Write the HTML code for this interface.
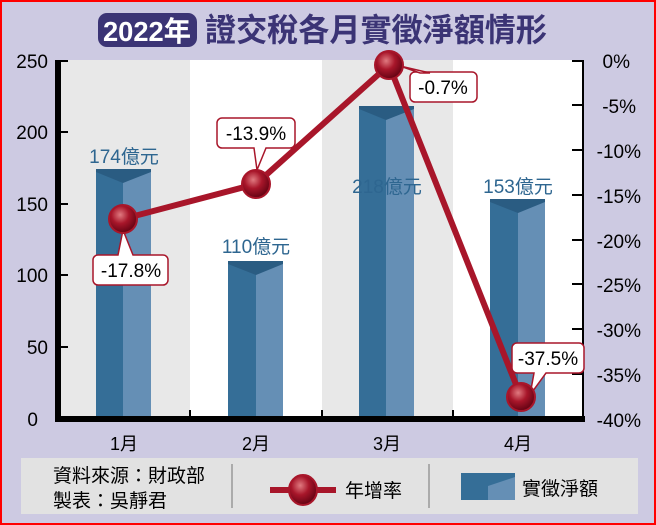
<!DOCTYPE html>
<html><head><meta charset="utf-8"><style>
body{margin:0;padding:0;}
svg{display:block;}
text{font-family:"Liberation Sans","Noto Sans CJK TC",sans-serif;}
</style></head><body>
<svg width="656" height="525" viewBox="0 0 656 525" xmlns="http://www.w3.org/2000/svg">
<defs>
<radialGradient id="mk" cx="0.4" cy="0.35" r="0.7">
<stop offset="0" stop-color="#e07a80"/><stop offset="0.45" stop-color="#a8162a"/><stop offset="1" stop-color="#5a0010"/>
</radialGradient>
</defs>
<rect x="0" y="0" width="656" height="525" fill="#ff0000"/>
<rect x="2" y="2" width="652" height="521" fill="#cdcae2"/>
<rect x="98" y="13" width="99" height="34" rx="9" fill="#3b3475"/>
<text x="147" y="41" font-size="28" font-weight="bold" fill="#fff" text-anchor="middle" textLength="88" lengthAdjust="spacingAndGlyphs">2022年</text>
<text x="205" y="41" font-size="32" font-weight="bold" fill="#3b3475" textLength="342" lengthAdjust="spacingAndGlyphs">證交稅各月實徵淨額情形</text>
<rect x="61" y="60" width="129" height="358" fill="#e8e8e8"/>
<rect x="190" y="60" width="132" height="358" fill="#ffffff"/>
<rect x="322" y="60" width="131" height="358" fill="#e8e8e8"/>
<rect x="453" y="60" width="131" height="358" fill="#ffffff"/>
<g>
<rect x="96" y="169" width="27" height="249" fill="#356e97"/><rect x="123" y="169" width="28" height="249" fill="#658fb5"/><polygon points="96,169 151,169 151,172 123,183 96,172" fill="#2a5c82"/>
<rect x="228" y="261" width="28" height="157" fill="#356e97"/><rect x="256" y="261" width="27" height="157" fill="#658fb5"/><polygon points="228,261 283,261 283,264 256,275 228,264" fill="#2a5c82"/>
<rect x="359" y="106" width="27" height="312" fill="#356e97"/><rect x="386" y="106" width="28" height="312" fill="#658fb5"/><polygon points="359,106 414,106 414,109 386,120 359,109" fill="#2a5c82"/>
<rect x="490" y="199" width="28" height="219" fill="#356e97"/><rect x="518" y="199" width="27" height="219" fill="#658fb5"/><polygon points="490,199 545,199 545,202 518,213 490,202" fill="#2a5c82"/>
</g>
<g font-size="19" fill="#2e6690" text-anchor="middle">
<text x="124" y="163">174億元</text>
<text x="256" y="253">110億元</text>
<text x="387" y="193">218億元</text>
<text x="518" y="193">153億元</text>
</g>
<rect x="55" y="60" width="6" height="362" fill="#000"/>
<rect x="55" y="416" width="530" height="6" fill="#000"/>
<rect x="582" y="60" width="2" height="360" fill="#000"/>
<g stroke="#000" stroke-width="2">
<line x1="55" y1="61" x2="68" y2="61"/><line x1="61" y1="132" x2="68" y2="132"/><line x1="61" y1="204" x2="68" y2="204"/><line x1="61" y1="275" x2="68" y2="275"/><line x1="61" y1="347" x2="68" y2="347"/>
<line x1="572" y1="61" x2="584" y2="61"/><line x1="572" y1="105" x2="584" y2="105"/><line x1="572" y1="150" x2="584" y2="150"/><line x1="572" y1="195" x2="584" y2="195"/><line x1="572" y1="240" x2="584" y2="240"/><line x1="572" y1="284" x2="584" y2="284"/><line x1="572" y1="329" x2="584" y2="329"/><line x1="572" y1="374" x2="584" y2="374"/>
<line x1="190" y1="410" x2="190" y2="416"/><line x1="322" y1="410" x2="322" y2="416"/><line x1="453" y1="410" x2="453" y2="416"/>
</g>
<g font-size="19" fill="#000" text-anchor="end">
<text x="48" y="68">250</text><text x="48" y="139">200</text><text x="48" y="211">150</text><text x="48" y="282">100</text><text x="48" y="354">50</text><text x="38" y="426">0</text>
</g>
<g font-size="19" fill="#000" text-anchor="end">
<text x="630" y="68">0%</text><text x="636" y="113">-5%</text><text x="641" y="158">-10%</text><text x="641" y="203">-15%</text><text x="641" y="248">-20%</text><text x="641" y="292">-25%</text><text x="641" y="337">-30%</text><text x="641" y="382">-35%</text><text x="641" y="427">-40%</text>
</g>
<g font-size="18" fill="#000" text-anchor="middle">
<text x="124" y="450">1月</text><text x="256" y="450">2月</text><text x="387" y="450">3月</text><text x="518" y="450">4月</text>
</g>
<polyline points="123,219 256,184 389,65 521,397" fill="none" stroke="#a8162a" stroke-width="6" stroke-linejoin="round"/>
<g fill="#fff" stroke="#a8162a" stroke-width="1.5">
<path d="M98,255 h20 l5,-25 l10,25 h30 a5,5 0 0 1 5,5 v20 a5,5 0 0 1 -5,5 h-65 a5,5 0 0 1 -5,-5 v-20 a5,5 0 0 1 5,-5z"/>
<path d="M222,118 h68 a5,5 0 0 1 5,5 v20 a5,5 0 0 1 -5,5 h-24 l-9,22 l-3,-22 h-32 a5,5 0 0 1 -5,-5 v-20 a5,5 0 0 1 5,-5z"/>
<path d="M415,72 h57 a5,5 0 0 1 5,5 v20 a5,5 0 0 1 -5,5 h-57 a5,5 0 0 1 -5,-5 v-20 a5,5 0 0 1 5,-5 z"/>
<path d="M517,343 h62 a5,5 0 0 1 5,5 v20 a5,5 0 0 1 -5,5 h-33 l-16,22 l4,-22 h-17 a5,5 0 0 1 -5,-5 v-20 a5,5 0 0 1 5,-5z"/>
</g>
<polygon points="400,66 420,73 430,73" fill="#fff" stroke="#a8162a" stroke-width="1.5"/>
<g font-size="19" fill="#000" text-anchor="middle">
<text x="131" y="277">-17.8%</text>
<text x="256" y="140">-13.9%</text>
<text x="443" y="94">-0.7%</text>
<text x="548" y="365">-37.5%</text>
</g>
<g fill="url(#mk)" stroke="#a8162a" stroke-width="2">
<circle cx="123" cy="219" r="14"/><circle cx="256" cy="184" r="14"/><circle cx="389" cy="65" r="14"/><circle cx="521" cy="397" r="14"/>
</g>
<rect x="21" y="458" width="617" height="56" fill="#e2e2e2"/>
<g font-size="19" fill="#000">
<text x="53" y="482">資料來源：財政部</text>
<text x="53" y="507">製表：吳靜君</text>
<text x="345" y="497">年增率</text>
<text x="522" y="495">實徵淨額</text>
</g>
<line x1="232" y1="464" x2="232" y2="508" stroke="#999" stroke-width="1.5"/>
<line x1="429" y1="464" x2="429" y2="508" stroke="#999" stroke-width="1.5"/>
<line x1="270" y1="490" x2="336" y2="490" stroke="#a8162a" stroke-width="6"/>
<ellipse cx="303" cy="490" rx="14" ry="15" fill="url(#mk)" stroke="#a8162a" stroke-width="2"/>
<rect x="461" y="473" width="54" height="27" fill="#658fb5"/>
<polygon points="461,473 515,473 515,477 488,486 488,500 461,500" fill="#356e97"/>
</svg>
</body></html>
